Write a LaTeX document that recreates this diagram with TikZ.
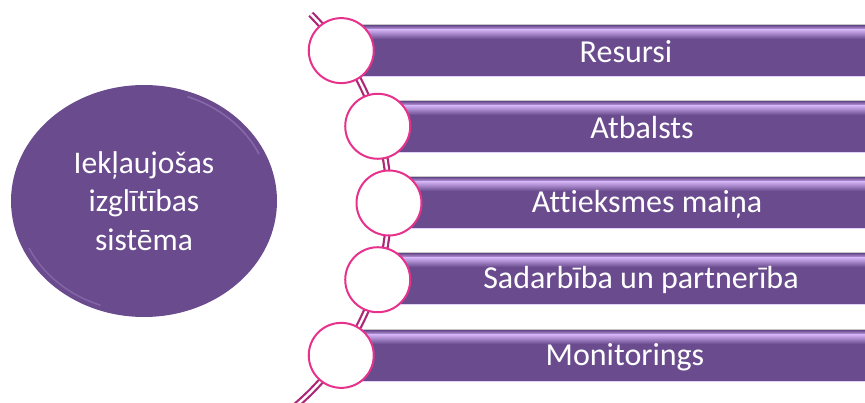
\documentclass[tikz,border=0pt]{standalone}
\usepackage{fontspec}
\setmainfont{Carlito}[Ligatures={NoCommon}]
\usetikzlibrary{shapes.geometric,calc}
\definecolor{pbase}{RGB}{106,76,142}
\definecolor{plight}{RGB}{206,172,240}
\definecolor{pdark}{RGB}{100,70,136}
\definecolor{rpink}{RGB}{230,50,140}
\definecolor{chainc}{RGB}{172,40,118}
\tikzset{
  chainline/.style={draw=chainc, line width=2.2pt, double=white, double distance=2.4pt},
  ringnode/.style={circle, minimum size=65pt, inner sep=0pt, fill=white, draw=rpink, line width=2pt},
  barlabel/.style={text=white, font=\fontsize{32}{36}\selectfont, inner sep=0pt, anchor=center},
  hubnode/.style={ellipse, minimum width=266pt, minimum height=232pt, inner sep=0pt, fill=pbase,
     text=white, align=center, font=\fontsize{31.5}{38.5}\selectfont},
}
\newcommand{\stripbar}[2]{% #1 = left x, #2 = top y
  \fill[pbase] (#1,#2) rectangle (865,#2+52);
  \shade[top color=pdark, bottom color=plight] (#1,#2+1) rectangle (865,#2+6);
  \shade[top color=plight, bottom color=pbase] (#1,#2+6) rectangle (865,#2+15);
  \draw[black!22, line width=0.7pt] (#1,#2) -- (865,#2);
  \draw[plight!55, line width=0.7pt] (#1,#2+52) -- (865,#2+52);
}
\begin{document}
\begin{tikzpicture}[x=1pt,y=-1pt]
\useasboundingbox (0,0) rectangle (865,403);
\begin{scope}
\clip (0,0) rectangle (865,403);
% hub
\node[hubnode] (hub) at (144,201) {Iekļaujošas\\izglītības\\sistēma};
\draw[plight, opacity=0.3, line width=1.5pt] ($(144,201)+(-25:127 and 111)$) arc[start angle=-25, end angle=-70, x radius=127, y radius=111];
\draw[plight, opacity=0.25, line width=1.5pt] ($(144,201)+(155:127 and 111)$) arc[start angle=155, end angle=110, x radius=127, y radius=111];
% chain
\coordinate (arcC) at (122,203);
\coordinate (chainTop) at ([shift={(arcC)}] -45:267);
\draw[chainline] (chainTop) arc[start angle=-45, end angle=50, radius=267];
% ring positions
\coordinate (r1) at ([shift={(arcC)}] -34.8:267);
\coordinate (r2) at ([shift={(arcC)}] -16.7:267);
\coordinate (r3) at ([shift={(arcC)}] 0:267);
\coordinate (r4) at ([shift={(arcC)}] 16.7:267);
\coordinate (r5) at ([shift={(arcC)}] 34.8:267);
% bars
\stripbar{341}{24}
\stripbar{377}{100}
\stripbar{389}{176}
\stripbar{377}{252}
\stripbar{341}{329}
% rings
\node[ringnode] (c1) at (r1) {};
\node[ringnode] (c2) at (r2) {};
\node[ringnode] (c3) at (r3) {};
\node[ringnode] (c4) at (r4) {};
\node[ringnode] (c5) at (r5) {};
% labels
\node[barlabel] (t1) at (626,52) {Resursi};
\node[barlabel] (t2) at (642,128) {Atbalsts};
\node[barlabel] (t3) at (647,204) {Attieksmes maiņa};
\node[barlabel] (t4) at (641,280) {Sadarbība un partnerība};
\node[barlabel] (t5) at (625,357) {Monitorings};
\end{scope}
\end{tikzpicture}
\end{document}
